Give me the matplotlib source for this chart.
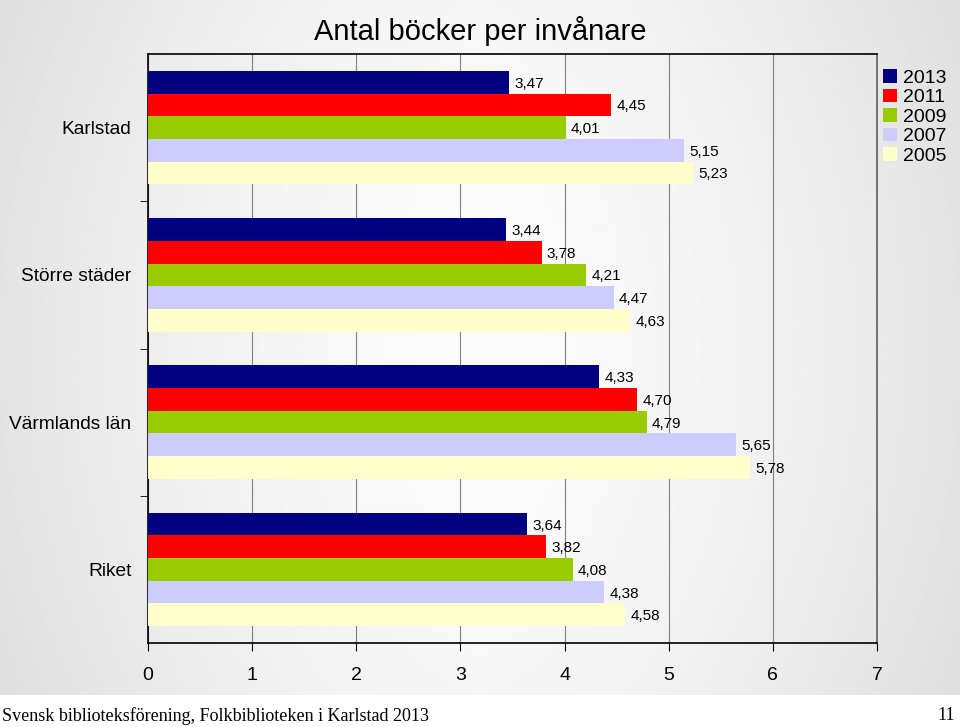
import numpy as np
import matplotlib.pyplot as plt

plt.rcParams['font.family'] = ['Liberation Sans', 'DejaVu Sans']

# data
categories = ['Karlstad', 'Större städer', 'Värmlands län', 'Riket']
years = ['2013', '2011', '2009', '2007', '2005']
v2013 = [3.47, 3.44, 4.33, 3.64]
v2011 = [4.45, 3.78, 4.70, 3.82]
v2009 = [4.01, 4.21, 4.79, 4.08]
v2007 = [5.15, 4.47, 5.65, 4.38]
v2005 = [5.23, 4.63, 5.78, 4.58]
series = [v2013, v2011, v2009, v2007, v2005]
colors = ['#000080', '#ff0000', '#99cc00', '#ccccff', '#ffffcc']

fig = plt.figure(figsize=(9.6, 7.27), dpi=100)
fig.patch.set_facecolor('white')

# grey slide background, lighter in the middle
bg = fig.add_axes([0, 1 - 695 / 727, 1, 695 / 727])
xx = np.linspace(-1, 1, 400)
yy = np.linspace(-1, 1, 300)
X, Y = np.meshgrid(xx, yy)
grad = 0.985 - 0.09 * np.abs(X) ** 1.5 - 0.02 * Y ** 2
bg.imshow(grad, cmap='gray', vmin=0, vmax=1, aspect='auto', extent=[0, 1, 0, 1])
bg.axis('off')

ax = fig.add_axes([148 / 960, 1 - 643 / 727, (877 - 148) / 960, (643 - 54) / 727])
ax.set_facecolor('none')

bh = 0.154
y0 = np.arange(len(categories))
for i, (vals, col) in enumerate(zip(series, colors)):
    ys = y0 - 2 * bh + i * bh
    ax.barh(ys, vals, height=bh, color=col, label=years[i], zorder=3)
    for y, v in zip(ys, vals):
        ax.text(v + 0.05, y, f'{v:.2f}'.replace('.', ','), va='center_baseline', ha='left',
                fontsize=11, zorder=4)

ax.set_xlim(0, 7)
ax.set_ylim(3.5, -0.5)
ax.set_xticks(range(8))
ax.xaxis.grid(True, color='#808080', linewidth=0.8, zorder=0)
ax.set_yticks(y0)
ax.set_yticklabels(categories, fontsize=13.8)
ax.set_yticks([0.5, 1.5, 2.5], minor=True)
ax.tick_params(axis='y', which='major', length=0, pad=12)
ax.tick_params(axis='y', which='minor', length=6, direction='out')
ax.tick_params(axis='x', labelsize=14, length=6, pad=11)
for s in ax.spines.values():
    s.set_color('black')
    s.set_linewidth(1.2)
ax.spines['right'].set_color('#606060')

leg = fig.legend(*ax.get_legend_handles_labels(), loc='upper left',
                 bbox_to_anchor=(883 / 960, 1 - 69 / 727), bbox_transform=fig.transFigure,
                 frameon=False, fontsize=14, handlelength=0.7, handleheight=0.7,
                 handletextpad=0.35, labelspacing=0.1, borderaxespad=0, borderpad=0)

fig.text(0.5, 1 - 31 / 727, 'Antal böcker per invånare', ha='center', va='center', fontsize=21)

fig.text(2 / 960, 1 - 716 / 727, 'Svensk biblioteksförening, Folkbiblioteken i Karlstad 2013',
         family='Liberation Serif', fontsize=13, va='center', ha='left')
fig.text(955 / 960, 1 - 716 / 727, '11', family='Liberation Serif', fontsize=13,
         va='center', ha='right')

fig.savefig('out.png', dpi=100)
